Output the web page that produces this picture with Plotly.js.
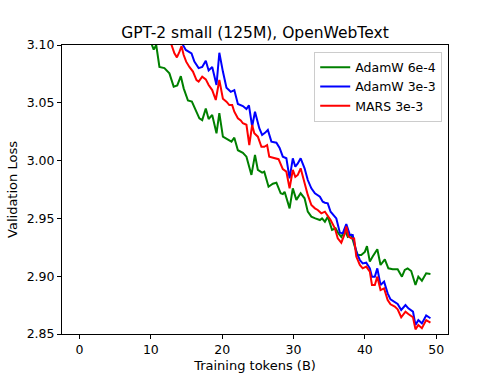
<!DOCTYPE html>
<html>
<head>
<meta charset="utf-8">
<script src="https://cdn.plot.ly/plotly-3.0.1.min.js"></script>
<style>
  body { margin: 0; background: #fff; }
  #plot { width: 498px; height: 374px; }
</style>
</head>
<body>
<div id="plot"></div>
<script>
// values (tokens in B, validation loss)

// AdamW 6e-4
const adamwLowX = [9.8, 10.15, 10.4, 10.75, 11.2, 11.9, 12.6, 13.2, 13.7, 14.2, 14.6, 15.2, 15.75, 16.2, 16.8, 17.2, 17.7, 18.1, 18.6, 19.2, 19.6, 20.1, 20.8, 21.3, 21.7, 22.2, 22.9, 23.4, 24.1, 24.6, 25.0, 25.6, 25.9, 26.5, 27.1, 27.6, 28.2, 28.5, 28.75, 29.45, 29.9, 30.4, 31.0, 31.55, 32.0, 32.5, 33.05, 33.7, 34.0, 34.4, 34.8, 35.4, 35.9, 36.3, 36.7, 37.2, 37.6, 38.1, 38.6, 39.0, 39.5, 40.0, 40.3, 40.7, 41.1, 41.75, 42.2, 42.8, 43.3, 43.9, 44.6, 45.2, 45.6, 46.0, 46.5, 47.1, 47.5, 48.0, 48.6, 49.2];
const adamwLowY = [3.118, 3.100, 3.096, 3.100, 3.081, 3.080, 3.0755, 3.064, 3.065, 3.073, 3.0625, 3.052, 3.051, 3.045, 3.0366, 3.035, 3.045, 3.036, 3.0395, 3.0236, 3.041, 3.0207, 3.0184, 3.0164, 3.0198, 3.009, 3.0068, 3.0034, 2.9876, 3.0049, 2.9919, 2.9896, 2.9904, 2.9774, 2.980, 2.9809, 2.9717, 2.971, 2.973, 2.9587, 2.976, 2.966, 2.9717, 2.9674, 2.9558, 2.9515, 2.950, 2.9486, 2.950, 2.9471, 2.9515, 2.940, 2.9414, 2.937, 2.934, 2.940, 2.934, 2.9357, 2.9255, 2.9183, 2.9183, 2.921, 2.926, 2.9126, 2.917, 2.9233, 2.9097, 2.9146, 2.9068, 2.906, 2.906, 2.8996, 2.9054, 2.9068, 2.9045, 2.8924, 2.8996, 2.8961, 2.9025, 2.9019];

// AdamW 3e-3
const adamwHighX = [14.0, 14.5, 14.9, 15.7, 16.1, 16.7, 17.2, 17.7, 18.1, 18.6, 19.2, 19.6, 20.1, 20.6, 21.2, 21.7, 22.2, 22.9, 23.4, 23.75, 24.2, 24.6, 25.2, 25.6, 26.0, 26.4, 26.9, 27.6, 28.05, 28.5, 29.0, 29.45, 29.9, 30.25, 30.6, 31.0, 31.55, 32.0, 32.5, 33.0, 33.7, 34.1, 34.4, 34.8, 35.2, 35.7, 36.0, 36.5, 36.9, 37.4, 37.9, 38.3, 38.8, 39.3, 39.7, 40.2, 40.7, 41.0, 41.4, 41.75, 42.2, 42.7, 43.2, 43.6, 44.2, 44.6, 45.1, 45.7, 46.1, 46.75, 47.1, 47.5, 48.0, 48.6, 49.2];
const adamwHighY = [3.115, 3.100, 3.0957, 3.0928, 3.0856, 3.080, 3.081, 3.0864, 3.078, 3.081, 3.0654, 3.0933, 3.077, 3.063, 3.0595, 3.061, 3.049, 3.0472, 3.0446, 3.0478, 3.0295, 3.0423, 3.028, 3.0222, 3.024, 3.0265, 3.0164, 3.0155, 3.011, 3.0034, 3.002, 2.9847, 3.002, 2.9947, 2.9976, 3.002, 2.9933, 2.9832, 2.976, 2.9717, 2.9688, 2.9645, 2.9636, 2.963, 2.9558, 2.9515, 2.950, 2.9376, 2.937, 2.945, 2.9357, 2.9357, 2.921, 2.914, 2.911, 2.9117, 2.9068, 2.8996, 2.8996, 2.9068, 2.8924, 2.8953, 2.8852, 2.880, 2.878, 2.876, 2.8708, 2.875, 2.8722, 2.8693, 2.8578, 2.862, 2.8592, 2.866, 2.8636];

// MARS 3e-3
const marsX = [12.5, 12.9, 13.3, 13.65, 14.0, 14.3, 14.6, 14.95, 15.4, 15.9, 16.4, 16.7, 17.2, 17.7, 18.1, 18.6, 19.1, 19.6, 20.1, 20.6, 21.0, 21.4, 21.7, 22.2, 22.6, 22.9, 23.4, 23.8, 24.2, 24.5, 25.0, 25.5, 25.9, 26.3, 26.6, 27.35, 27.9, 28.5, 29.0, 29.45, 29.9, 30.25, 30.6, 31.0, 31.45, 32.0, 32.5, 33.0, 33.4, 33.9, 34.4, 34.7, 35.2, 35.8, 36.2, 36.7, 37.2, 37.4, 37.7, 38.1, 38.5, 38.8, 39.3, 39.7, 40.2, 40.7, 41.0, 41.4, 41.75, 42.2, 42.7, 43.2, 43.6, 44.2, 44.6, 45.1, 45.7, 46.1, 46.75, 47.1, 47.5, 48.0, 48.6, 49.2];
const marsY = [3.115, 3.100, 3.0928, 3.0893, 3.094, 3.099, 3.0913, 3.0856, 3.081, 3.077, 3.0697, 3.0683, 3.0726, 3.0703, 3.0654, 3.061, 3.0524, 3.0697, 3.0535, 3.051, 3.048, 3.048, 3.0423, 3.0366, 3.0347, 3.0323, 3.031, 3.0135, 3.0308, 3.0236, 3.0207, 3.012, 3.012, 3.0135, 3.0034, 3.002, 3.0012, 2.9926, 2.9904, 2.976, 2.9919, 2.986, 2.9876, 2.9933, 2.9818, 2.9703, 2.9616, 2.9587, 2.9573, 2.9544, 2.9558, 2.953, 2.9486, 2.9414, 2.9328, 2.929, 2.937, 2.943, 2.9345, 2.9328, 2.9327, 2.917, 2.9097, 2.9068, 2.9083, 2.904, 2.8924, 2.8924, 2.8996, 2.888, 2.8895, 2.8794, 2.8757, 2.8737, 2.8714, 2.8645, 2.8693, 2.8673, 2.8645, 2.854, 2.8578, 2.855, 2.862, 2.8598];

const seriesNames = ['AdamW 6e-4', 'AdamW 3e-3', 'MARS 3e-3'];
const seriesColors = ['#008000', '#0000ff', '#ff0000'];

const xTicks = [0, 10, 20, 30, 40, 50];
const yTicks = [2.85, 2.90, 2.95, 3.00, 3.05, 3.10];

const font = 'DejaVu Sans, Liberation Sans, sans-serif';

function makeTrace(x, y, i) {
    return {
        x: x,
        y: y,
        name: seriesNames[i],
        mode: 'lines',
        line: {color: seriesColors[i], width: 2},
        cliponaxis: true
    };
}

var data = [
    makeTrace(adamwLowX, adamwLowY, 0),
    makeTrace(adamwHighX, adamwHighY, 1),
    makeTrace(marsX, marsY, 2)
];

var layout = {
    width: 498,
    height: 374,
    margin: {l: 62, r: 50, t: 45, b: 40},
    paper_bgcolor: '#fff',
    plot_bgcolor: '#fff',
    font: {family: font, size: 12, color: '#000'},
    title: {
        text: 'GPT-2 small (125M), OpenWebText',
        font: {family: font, size: 15.5, color: '#000'},
        xref: 'paper', x: 0.5,
        y: 0.912, yanchor: 'middle'
    },
    xaxis: {
        range: [-2.46, 51.66],
        tickvals: xTicks,
        ticks: 'outside', ticklen: 4, tickcolor: '#000',
        showgrid: false, zeroline: false,
        showline: true, mirror: true, linecolor: '#000', linewidth: 1,
        tickfont: {size: 12.5},
        title: {text: 'Training tokens (B)', font: {size: 13}, standoff: 4}
    },
    yaxis: {
        range: [2.85, 3.10],
        tickvals: yTicks,
        tickformat: '.2f',
        ticks: 'outside', ticklen: 4, tickcolor: '#000',
        showgrid: false, zeroline: false,
        showline: true, mirror: true, linecolor: '#000', linewidth: 1,
        tickfont: {size: 12.5},
        title: {text: 'Validation Loss', font: {size: 13}, standoff: 6}
    },
    legend: {
        x: 0.985, xanchor: 'right',
        y: 0.977, yanchor: 'top',
        bgcolor: '#fff',
        bordercolor: '#cccccc', borderwidth: 1,
        font: {size: 12.5},
        tracegroupgap: 0
    },
    showlegend: true
};

Plotly.newPlot('plot', data, layout, {displayModeBar: false, staticPlot: true});
</script>
</body>
</html>
